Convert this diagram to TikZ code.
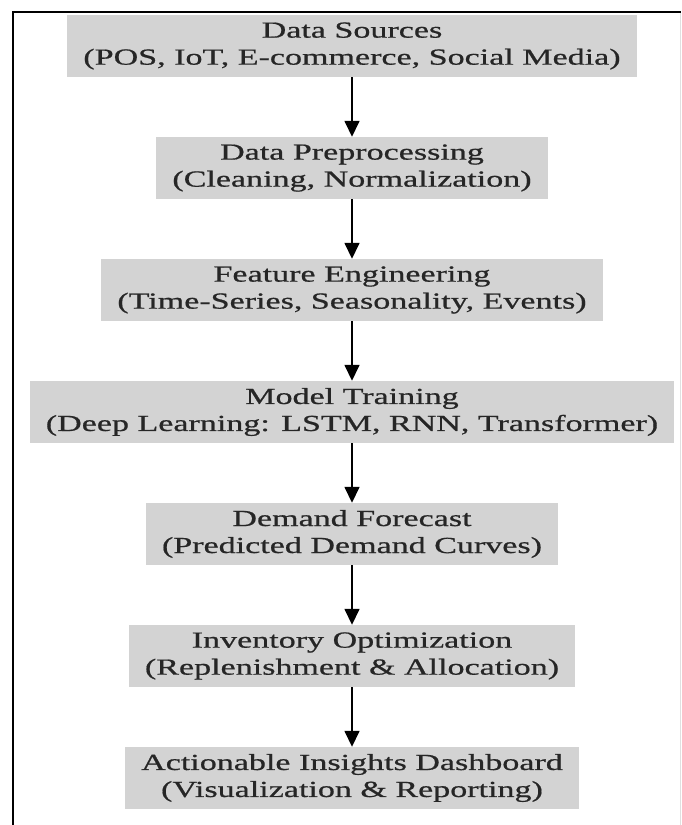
\documentclass[tikz,border=0pt]{standalone}
\usepackage{fontspec}
\setmainfont[FakeStretch=1.48,FakeBold=0.7]{Liberation Serif}
\usetikzlibrary{arrows.meta}
\definecolor{boxgray}{RGB}{211,211,211}

\begin{document}
\begin{tikzpicture}[
    x=1pt, y=1pt,
    every node/.append style={font=\fontsize{23}{27}\selectfont},  % stretched Times-like text
    level/.style={level distance=122pt},
    stage/.style={fill=boxgray, minimum height=62pt, inner xsep=16pt, align=center, text=black!85},
    edge from parent/.style={draw, line width=1.6pt, -{Triangle[width=15pt,length=16pt]}},
]
\useasboundingbox (0,0) rectangle (681,825);

% frame (left and top rules)
\draw[black!12] (680,0) -- (680,813);
\draw[line width=1.8pt] (13,0) -- (13,813) -- (681,813);

\node[stage] (sources) at (352,779) {Data Sources\\(POS, IoT, E-commerce, Social Media)}
    child {node[stage] (preproc) {Data Preprocessing\\(Cleaning, Normalization)}
        child {node[stage] (features) {Feature Engineering\\(Time-Series, Seasonality, Events)}
            child {node[stage] (training) {Model Training\\(Deep Learning: LSTM, RNN, Transformer)}
                child {node[stage] (forecast) {Demand Forecast\\(Predicted Demand Curves)}
                    child {node[stage] (inventory) {Inventory Optimization\\(Replenishment \& Allocation)}
                        child {node[stage] (dashboard) {Actionable Insights Dashboard\\(Visualization \& Reporting)}}
                    }
                }
            }
        }
    };

\end{tikzpicture}
\end{document}
